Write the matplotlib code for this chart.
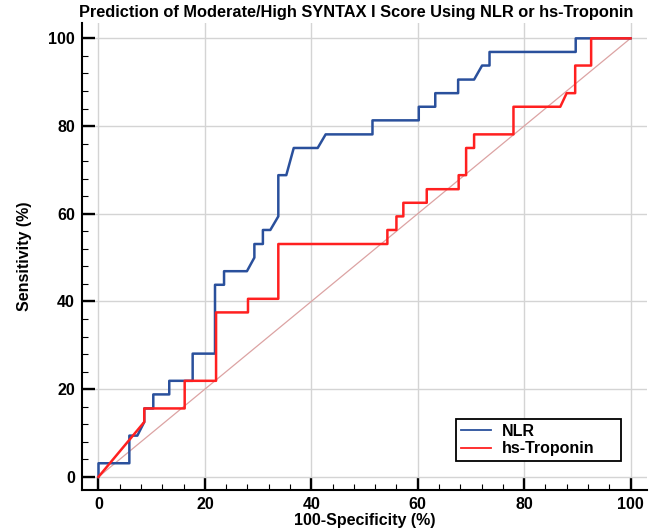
import matplotlib
matplotlib.use("Agg")
import matplotlib.pyplot as plt
from matplotlib.ticker import MultipleLocator

plt.rcParams['font.family'] = ['Liberation Sans', 'DejaVu Sans']
plt.rcParams['font.weight'] = 'bold'

# ROC vertices (100-specificity %, sensitivity %)
nlr_x = [0, 0, 5.8, 5.8, 7.3, 8.6, 8.6, 10.3, 10.3, 13.3,
         13.3, 17.7, 17.7, 21.9, 21.9, 23.6, 23.6, 27.9, 29.3, 29.3,
         30.9, 30.9, 32.3, 33.8, 33.8, 35.3, 36.7, 41.2, 42.7, 51.5,
         51.5, 60.2, 60.2, 63.3, 63.3, 67.6, 67.6, 70.6, 72.1, 73.5,
         73.5, 89.7, 89.7, 100]
nlr_y = [0, 3.1, 3.1, 9.4, 9.4, 12.5, 15.6, 15.6, 18.8, 18.8,
         21.9, 21.9, 28.1, 28.1, 43.8, 43.8, 46.9, 46.9, 50.0, 53.1,
         53.1, 56.3, 56.3, 59.4, 68.8, 68.8, 75.0, 75.0, 78.1, 78.1,
         81.3, 81.3, 84.4, 84.4, 87.5, 87.5, 90.6, 90.6, 93.8, 93.8,
         96.9, 96.9, 100, 100]

trop_x = [0, 8.6, 8.6, 16.2, 16.2, 22.1, 22.1, 28.1, 28.1, 33.8,
          33.8, 54.3, 54.3, 56.0, 56.0, 57.3, 57.3, 61.7, 61.7, 67.7,
          67.7, 69.1, 69.1, 70.6, 70.6, 78.0, 78.0, 86.8, 88.0, 89.6,
          89.6, 92.6, 92.6, 100]
trop_y = [0, 12.5, 15.6, 15.6, 21.9, 21.9, 37.5, 37.5, 40.6, 40.6,
          53.1, 53.1, 56.3, 56.3, 59.4, 59.4, 62.5, 62.5, 65.6, 65.6,
          68.8, 68.8, 75.0, 75.0, 78.1, 78.1, 84.4, 84.4, 87.5, 87.5,
          93.8, 93.8, 100, 100]

fig = plt.figure(figsize=(6.64, 5.31), dpi=100)
ax = fig.add_axes([82 / 664, 1 - 490 / 531, (647 - 82) / 664, (490 - 23) / 531])

ax.plot([0, 100], [0, 100], color='#dca3a3', lw=0.9, zorder=2)
ax.plot(nlr_x, nlr_y, color='#2a509c', lw=1.8, label='NLR', zorder=3)
ax.plot(trop_x, trop_y, color='#ff2020', lw=1.8, label='hs-Troponin', zorder=4)

ax.set_xlim(-3.1, 103.1)
ax.set_ylim(-3.0, 103.5)
ax.xaxis.set_major_locator(MultipleLocator(20))
ax.yaxis.set_major_locator(MultipleLocator(20))
ax.xaxis.set_minor_locator(MultipleLocator(4))
ax.yaxis.set_minor_locator(MultipleLocator(4))
ax.grid(True, which='major', color='#d4d4d4', lw=1.0, zorder=0)

for s in ['top', 'right']:
    ax.spines[s].set_visible(False)
for s in ['left', 'bottom']:
    ax.spines[s].set_linewidth(1.5)

ax.tick_params(which='major', direction='in', length=9, width=1.7, labelsize=11.5, pad=5)
ax.tick_params(which='minor', direction='in', length=4, width=0.8)

ax.set_xlabel('100-Specificity (%)', fontsize=11.5, fontweight='bold', labelpad=1)
ax.set_ylabel('Sensitivity (%)', fontsize=11.5, fontweight='bold', labelpad=12)
fig.text(356 / 664, 1 - 13 / 531, 'Prediction of Moderate/High SYNTAX I Score Using NLR or hs-Troponin',
         ha='center', va='center', fontsize=11.8, fontweight='bold')

leg = ax.legend(loc='lower left', bbox_to_anchor=(0.662, 0.062, 0.292, 0.088), mode='expand',
                fontsize=11.5, fancybox=False, framealpha=1, edgecolor='black',
                handlelength=1.9, handletextpad=0.7, borderpad=0.3, labelspacing=0.15,
                borderaxespad=0)
leg.get_frame().set_linewidth(1.3)
for line in leg.get_lines():
    line.set_linewidth(1.3)

fig.savefig('out.png', dpi=100)
